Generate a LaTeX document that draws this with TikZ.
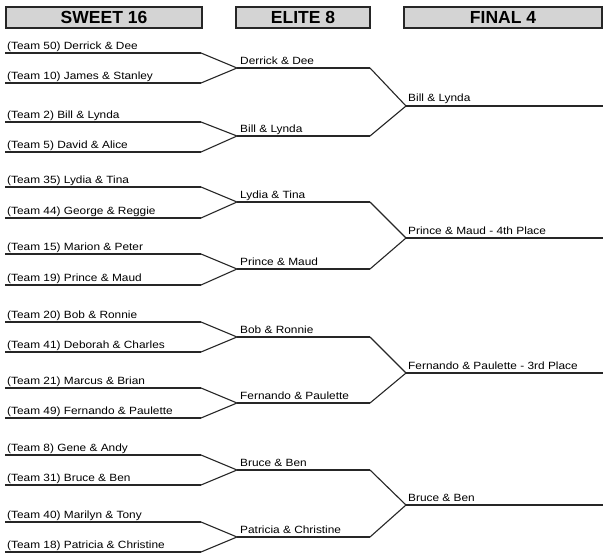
\documentclass[tikz,border=0pt]{standalone}
\usepackage{fontspec}
\setmainfont{Liberation Sans}
\newfontfamily\teamfont[FakeStretch=1.13]{Liberation Sans}
\begin{document}
\begin{tikzpicture}[x=1pt,y=-1pt,
  hline/.style={line width=1.5pt, draw=black!85},
  dline/.style={line width=1.1pt, draw=black!85},
  hdr/.style={draw=black!85, line width=1.6pt, fill=black!17, inner sep=0pt, minimum height=21pt,
    font=\bfseries\fontsize{17.5}{18}\selectfont},
  lbl/.style={anchor=base west, inner sep=0pt, font=\teamfont\fontsize{10.5}{12}\selectfont}]
\useasboundingbox[fill=white] (0,0) rectangle (604,553);

% headers
\node[hdr, minimum width=196pt] (h1) at (104,17.5) {SWEET 16};
\node[hdr, minimum width=134pt] (h2) at (303,17.5) {ELITE 8};
\node[hdr, minimum width=198pt] (h3) at (503,17.5) {FINAL 4};

% sweet 16
\foreach \y/\t [count=\i] in {
  53/{(Team 50) Derrick \& Dee},
  83/{(Team 10) James \& Stanley},
  122/{(Team 2) Bill \& Lynda},
  152/{(Team 5) David \& Alice},
  187/{(Team 35) Lydia \& Tina},
  218/{(Team 44) George \& Reggie},
  254/{(Team 15) Marion \& Peter},
  285/{(Team 19) Prince \& Maud},
  322/{(Team 20) Bob \& Ronnie},
  352/{(Team 41) Deborah \& Charles},
  388/{(Team 21) Marcus \& Brian},
  418/{(Team 49) Fernando \& Paulette},
  455/{(Team 8) Gene \& Andy},
  485/{(Team 31) Bruce \& Ben},
  522/{(Team 40) Marilyn \& Tony},
  552/{(Team 18) Patricia \& Christine}} {
  \coordinate (ta\i) at (5,\y);
  \coordinate (tb\i) at (201,\y);
  \node[lbl] (tn\i) at (7,\y-3.5) {\t};
}

% elite 8
\foreach \y/\t [count=\i] in {
  68/{Derrick \& Dee},
  136/{Bill \& Lynda},
  202/{Lydia \& Tina},
  269/{Prince \& Maud},
  337/{Bob \& Ronnie},
  403/{Fernando \& Paulette},
  470/{Bruce \& Ben},
  537/{Patricia \& Christine}} {
  \coordinate (ea\i) at (237,\y);
  \coordinate (eb\i) at (370,\y);
  \node[lbl] (en\i) at (240,\y-3.5) {\t};
}

% final 4
\foreach \y/\t [count=\i] in {
  106/{Bill \& Lynda},
  238/{Prince \& Maud - 4th Place},
  373/{Fernando \& Paulette - 3rd Place},
  505/{Bruce \& Ben}} {
  \coordinate (fa\i) at (406,\y);
  \coordinate (fb\i) at (603,\y);
  \node[lbl] (fn\i) at (408,\y-4) {\t};
}

% horizontal lines
\foreach \i in {1,...,16} \draw[hline] (ta\i) -- (tb\i);
\foreach \i in {1,...,8} \draw[hline] (ea\i) -- (eb\i);
\foreach \i in {1,...,4} \draw[hline] (fa\i) -- (fb\i);

% connectors sweet 16 -> elite 8
\foreach \j [evaluate=\j as \a using int(2*\j-1), evaluate=\j as \b using int(2*\j)] in {1,...,8}
  \draw[dline] (tb\a) -- (ea\j) -- (tb\b);

% connectors elite 8 -> final 4
\foreach \j [evaluate=\j as \a using int(2*\j-1), evaluate=\j as \b using int(2*\j)] in {1,...,4}
  \draw[dline] (eb\a) -- (fa\j) -- (eb\b);
\end{tikzpicture}
\end{document}
